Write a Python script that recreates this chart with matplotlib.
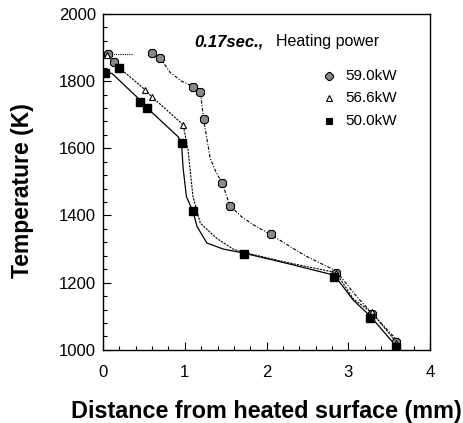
import matplotlib
matplotlib.use('Agg')
import matplotlib.pyplot as plt
from matplotlib.ticker import MultipleLocator

plt.rcParams['font.family'] = ['Liberation Sans', 'DejaVu Sans']

# measured points
x59 = [0.06, 0.13, 0.60, 0.70, 1.10, 1.19, 1.23, 1.46, 1.55, 2.06, 2.85, 3.29, 3.58]
t59 = [1881, 1858, 1883, 1869, 1784, 1769, 1687, 1496, 1429, 1344, 1228, 1108, 1022]
x56 = [0.05, 0.51, 0.60, 0.98, 1.10, 1.72, 2.85, 3.29, 3.58]
t56 = [1878, 1774, 1753, 1670, 1416, 1288, 1228, 1112, 1020]
x50 = [0.02, 0.20, 0.45, 0.54, 0.96, 1.10, 1.72, 2.83, 3.27, 3.58]
t50 = [1825, 1839, 1738, 1720, 1615, 1412, 1286, 1218, 1094, 1009]

# curves
cx59_a = [0.10, 0.35]
ct59_a = [1882, 1882]
cx59 = [0.70, 0.82, 0.96, 1.10, 1.19, 1.23, 1.31, 1.38, 1.46, 1.55, 1.70, 1.84, 2.06, 2.29, 2.49, 2.85, 3.10, 3.27, 3.59]
ct59 = [1869, 1826, 1800, 1784, 1769, 1687, 1571, 1530, 1496, 1429, 1395, 1372, 1342, 1307, 1278, 1235, 1159, 1114, 1030]
cx56 = [0.20, 0.23, 0.47, 0.60, 0.98, 1.04, 1.10, 1.19, 1.39, 1.59, 1.72, 2.29, 2.85, 3.06, 3.29, 3.58]
ct56 = [1840, 1833, 1784, 1753, 1670, 1595, 1456, 1377, 1332, 1300, 1290, 1258, 1230, 1152, 1110, 1025]
cx50 = [0.02, 0.11, 0.43, 0.54, 0.92, 0.96, 0.98, 1.02, 1.10, 1.15, 1.27, 1.47, 1.72, 2.29, 2.83, 3.06, 3.27, 3.58]
ct50 = [1825, 1823, 1749, 1720, 1634, 1615, 1540, 1456, 1412, 1367, 1318, 1300, 1288, 1255, 1222, 1148, 1100, 1012]

fig = plt.figure(figsize=(4.64, 4.23), dpi=100)
ax = fig.add_axes([0.222, 0.173, 0.705, 0.794])

ax.plot(cx59_a, ct59_a, color='black', lw=0.8, ls=(0, (1, 1)))
ax.plot(cx59, ct59, color='black', lw=0.8, ls=(0, (3, 1.5, 1, 1.5)))
ax.plot(cx56, ct56, color='black', lw=0.8, ls=(0, (2, 1)))
ax.plot(cx50, ct50, color='black', lw=0.9, ls='-')

ax.plot(x59, t59, ls='none', marker='8', ms=6.5, mfc='#8a8a8a', mec='black', mew=0.8)
ax.plot(x56, t56, ls='none', marker='^', ms=5, mfc='white', mec='black', mew=0.8)
ax.plot(x50, t50, ls='none', marker='s', ms=6, mfc='black', mec='black')

ax.set_xlim(0, 4)
ax.set_ylim(1000, 2000)
ax.xaxis.set_major_locator(MultipleLocator(1))
ax.xaxis.set_minor_locator(MultipleLocator(0.2))
ax.yaxis.set_major_locator(MultipleLocator(200))
ax.yaxis.set_minor_locator(MultipleLocator(40))
ax.tick_params(which='both', direction='in', labelsize=12, width=0.8)
ax.tick_params(which='major', length=6)
ax.tick_params(which='minor', length=3)
ax.tick_params(axis='x', pad=11)
ax.tick_params(axis='y', pad=5)
for s in ax.spines.values():
    s.set_linewidth(1.0)

ax.set_xlabel('Distance from heated surface (mm)', fontsize=16.8, fontweight='bold', labelpad=14)
ax.set_ylabel('Temperature (K)', fontsize=16.5, fontweight='bold')
ax.yaxis.set_label_coords(-0.21, 0.475)

ax.text(0.28, 0.94, '0.17sec.,', transform=ax.transAxes, fontsize=12,
        fontweight='bold', fontstyle='italic', va='top')
ax.text(0.53, 0.94, 'Heating power', transform=ax.transAxes, fontsize=11.5, va='top')

leg_y = [0.815, 0.75, 0.682]
leg_lab = ['59.0kW', '56.6kW', '50.0kW']
leg_m = [dict(marker='8', ms=5.5, mfc='#8a8a8a', mec='black'),
         dict(marker='^', ms=4, mfc='white', mec='black'),
         dict(marker='s', ms=5, mfc='black', mec='black')]
for yy, lab, mk in zip(leg_y, leg_lab, leg_m):
    ax.plot([0.69], [yy], transform=ax.transAxes, ls='none', mew=0.8, clip_on=False, **mk)
    ax.text(0.74, yy, lab, transform=ax.transAxes, fontsize=11, va='center')

fig.savefig('out.png', dpi=100)
